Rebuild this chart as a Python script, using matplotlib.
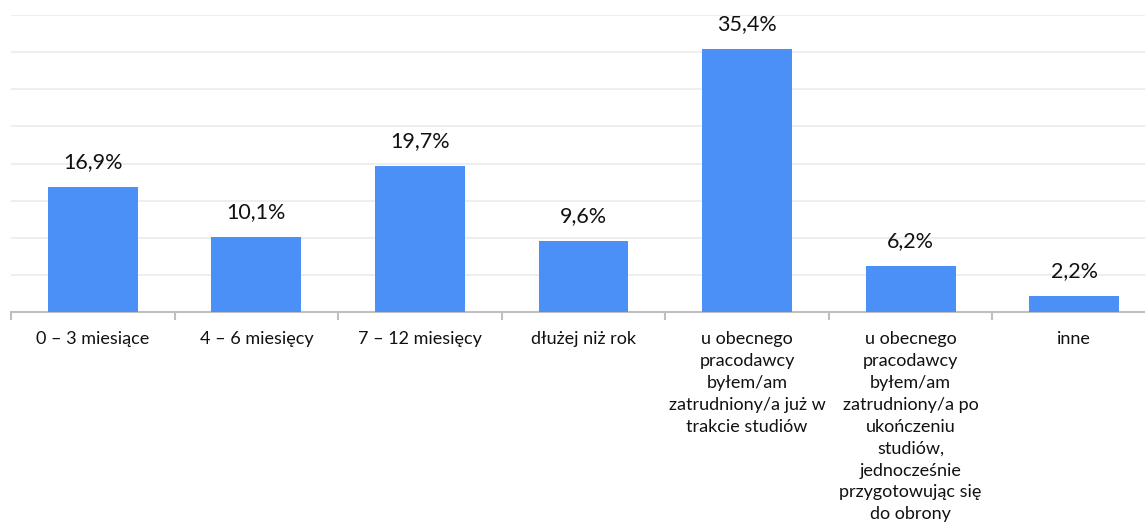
import numpy as np
import matplotlib.pyplot as plt

categories = [
    '0 – 3 miesiące',
    '4 – 6 miesięcy',
    '7 – 12 miesięcy',
    'dłużej niż rok',
    'u obecnego\npracodawcy\nbyłem/am\nzatrudniony/a już w\ntrakcie studiów',
    'u obecnego\npracodawcy\nbyłem/am\nzatrudniony/a po\nukończeniu\nstudiów,\njednocześnie\nprzygotowując się\ndo obrony',
    'inne',
]
values = [16.9, 10.1, 19.7, 9.6, 35.4, 6.2, 2.2]
value_labels = ['16,9%', '10,1%', '19,7%', '9,6%', '35,4%', '6,2%', '2,2%']

plt.rcParams['font.family'] = ['Lato', 'DejaVu Sans']

fig = plt.figure(figsize=(11.45, 5.27), dpi=100)
ax = fig.add_axes([11 / 1145, 1 - 312 / 527, 1145 / 1145, (312 - 15) / 527])

x = np.arange(len(values))
ax.bar(x, values, width=0.55, color='#4a90f7', zorder=3)

for xi, v, lab in zip(x, values, value_labels):
    ax.text(xi, v + 2.0, lab, ha='center', va='bottom', fontsize=15.5, color='#111111')

ax.set_xlim(-0.5, len(values) - 0.5)
ax.set_ylim(0, 40)
ax.set_yticks(np.arange(0, 45, 5))
ax.yaxis.grid(True, color='#ebebeb', linewidth=1.2, zorder=0)
ax.tick_params(axis='y', left=False, labelleft=False)

ax.set_xticks(x)
ax.set_xticklabels(categories, fontsize=13, linespacing=1.45, color='#111111')
ax.tick_params(axis='x', which='major', length=0, pad=14)
ax.set_xticks(np.arange(-0.5, len(values), 1), minor=True)
ax.tick_params(axis='x', which='minor', length=6, color='#bfbfbf', width=1.5)

for s in ['top', 'right', 'left']:
    ax.spines[s].set_visible(False)
ax.spines['bottom'].set_color('#bfbfbf')
ax.spines['bottom'].set_linewidth(1.5)

fig.savefig('out.png', dpi=100)
